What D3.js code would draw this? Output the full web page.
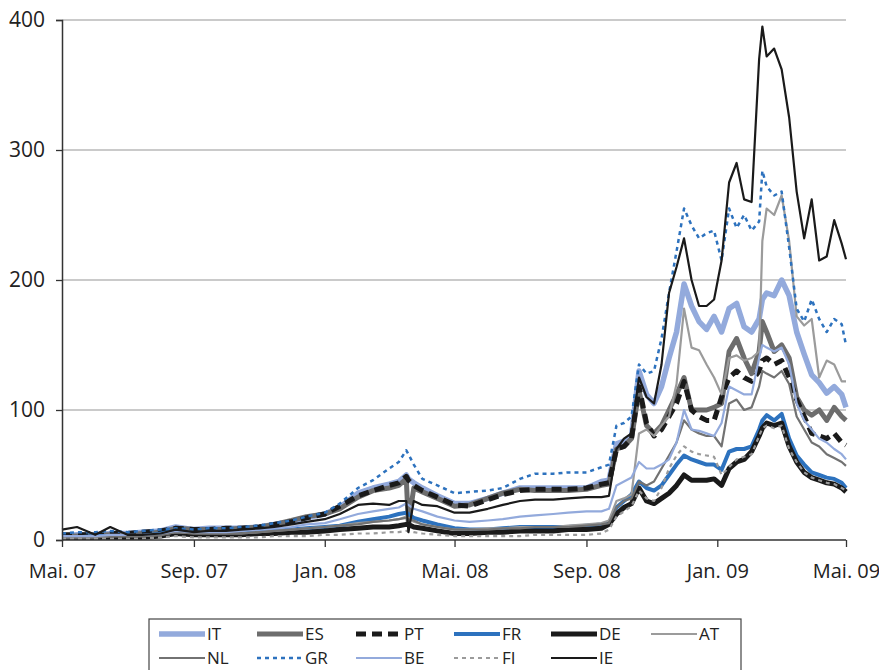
<!DOCTYPE html>
<html><head><meta charset="utf-8">
<script src="https://cdn.jsdelivr.net/npm/d3@7"></script>
<style>body{margin:0;background:#fff}svg{display:block;font-family:'Open Sans',sans-serif}</style>
</head><body><svg id="c" width="879" height="670"></svg>
<script>
// ---- data ----
const dates = ["2007-05-01","2007-05-15","2007-06-01","2007-06-15","2007-07-01","2007-07-15","2007-08-01","2007-08-15",
"2007-09-01","2007-09-15","2007-10-01","2007-10-15","2007-11-01","2007-11-15","2007-12-01","2007-12-15",
"2008-01-01","2008-01-15","2008-02-01","2008-02-15","2008-03-01","2008-03-10","2008-03-17","2008-03-19","2008-03-24",
"2008-04-01","2008-04-15","2008-05-01","2008-05-15","2008-06-01","2008-06-15","2008-07-01","2008-07-15","2008-08-01",
"2008-08-15","2008-09-01","2008-09-15","2008-09-22","2008-09-29","2008-10-06","2008-10-13","2008-10-20","2008-10-27",
"2008-11-03","2008-11-10","2008-11-17","2008-11-24","2008-12-01","2008-12-08","2008-12-15","2008-12-22","2008-12-29",
"2009-01-05","2009-01-12","2009-01-19","2009-01-26","2009-02-02","2009-02-09","2009-02-12","2009-02-16","2009-02-23",
"2009-03-02","2009-03-09","2009-03-16","2009-03-23","2009-03-30","2009-04-06","2009-04-13","2009-04-20","2009-04-27","2009-05-01"];

const IT = [3,4,4,5,5,6,7,10,8,9,9,9,10,12,14,17,20,25,36,40,43,45,50,47,44,40,34,28,28,32,36,40,40,40,40,40,45,
 46,74,76,80,130,112,105,118,140,160,197,180,168,162,172,160,178,182,164,160,170,185,190,188,200,188,160,143,127,121,113,118,112,102];
const ES = [3,3,4,4,4,5,6,9,8,8,8,9,10,12,15,18,20,24,33,38,40,42,47,12,40,37,32,26,27,32,36,39,38,38,38,39,42,
 43,70,72,78,115,88,82,88,100,112,125,100,100,100,102,105,145,155,140,128,145,168,160,145,150,140,110,100,96,100,92,102,95,92];
const PT = [4,4,4,5,5,6,7,9,8,8,9,9,10,12,14,17,20,26,34,38,42,44,49,46,42,38,33,27,26,31,35,38,39,39,39,40,43,
 44,70,72,78,118,90,80,85,95,105,122,100,95,92,92,110,125,130,125,122,130,138,140,135,138,125,108,95,82,80,78,82,75,73];
const FR = [2,2,3,3,3,3,5,7,5,5,5,5,6,7,8,9,10,11,14,16,18,20,21,20,17,15,12,9,8,8,9,10,10,10,10,11,12,
 13,25,30,35,45,40,38,42,50,58,65,62,60,58,58,54,68,70,70,72,85,92,96,92,97,78,65,58,52,50,48,47,44,40];
const DE = [2,2,2,2,2,2,3,5,4,4,4,4,5,5,6,6,7,8,9,10,10,11,12,12,10,9,7,5,5,6,6,7,7,7,8,8,9,
 12,20,25,28,40,30,28,32,36,42,50,46,46,46,47,42,55,60,62,68,80,86,90,88,90,72,60,52,48,46,44,43,40,37];
const AT = [2,2,2,3,3,3,4,6,5,5,5,5,6,7,8,9,10,11,13,14,15,16,18,17,14,12,10,8,8,9,9,10,10,10,11,12,13,
 15,30,32,35,82,85,80,88,95,120,178,148,146,135,125,112,140,142,138,140,145,230,255,250,265,230,172,165,170,125,138,135,122,122];
const NL = [2,2,2,3,3,3,4,6,5,5,5,5,6,7,8,9,10,11,12,14,15,16,17,16,15,12,10,8,8,8,9,9,10,10,10,11,12,
 13,25,30,32,45,42,45,55,65,75,92,85,82,80,80,72,105,108,100,102,118,130,128,125,130,120,95,85,75,72,66,63,60,57];
const GR = [5,6,6,7,6,7,8,9,8,9,9,10,11,13,15,18,21,28,40,46,55,60,69,66,58,47,42,36,37,38,40,47,51,51,52,52,56,
 58,88,90,95,135,128,130,155,190,222,255,242,232,236,238,215,255,240,250,238,245,284,272,265,268,225,178,168,185,170,160,170,166,150];
const BE = [3,3,3,4,4,4,5,7,6,6,6,7,8,9,10,12,13,16,20,22,24,25,28,27,24,22,18,15,14,15,16,18,19,20,21,22,22,
 24,42,45,48,60,55,55,58,62,75,100,85,84,82,80,90,118,115,112,112,140,150,148,145,148,135,105,92,85,78,75,70,66,62];
const FI = [1,1,1,1,1,1,2,3,2,2,2,2,2,3,3,3,4,4,5,5,6,6,7,7,6,5,4,3,3,3,3,3,4,4,4,4,5,
 8,18,22,26,38,32,30,40,55,65,72,68,66,65,64,50,56,62,64,66,80,86,88,86,88,70,60,52,48,46,44,43,40,38];
const IE = [8,10,4,10,4,4,5,8,6,7,7,8,9,10,12,14,16,20,27,28,27,30,30,6,30,27,26,21,21,24,27,30,31,31,32,33,33,
 34,70,78,82,125,110,105,135,190,210,232,200,180,180,185,215,275,290,262,260,370,395,372,378,362,325,268,232,262,215,218,246,228,216];

const seriesNames = ["IT","ES","PT","FR","DE","AT","NL","GR","BE","FI","IE"];
const seriesValues = [IT,ES,PT,FR,DE,AT,NL,GR,BE,FI,IE];
const tickDates = ["2007-05-01","2007-09-01","2008-01-01","2008-05-01","2008-09-01","2009-01-01","2009-05-01"];
const tickLabels = ["Mai. 07","Sep. 07","Jan. 08","Mai. 08","Sep. 08","Jan. 09","Mai. 09"];
const yTicks = [0,100,200,300,400];

// ---- styles ----
const styles = {
  IT:{c:"#93aadc",w:5.5,d:null},
  ES:{c:"#6d6d6d",w:5,d:null},
  PT:{c:"#1a1a1a",w:5,d:"10,6"},
  FR:{c:"#2d72be",w:4,d:null},
  DE:{c:"#1a1a1a",w:5,d:null},
  AT:{c:"#9b9b9b",w:2.2,d:null},
  NL:{c:"#727272",w:2.2,d:null},
  GR:{c:"#2d72be",w:2.5,d:"4,4"},
  BE:{c:"#93aadc",w:2.2,d:null},
  FI:{c:"#9b9b9b",w:2.2,d:"4,4"},
  IE:{c:"#1a1a1a",w:2.2,d:null}
};

const parse = d3.timeParse("%Y-%m-%d");
const svg = d3.select("#c");
const x = d3.scaleTime().domain([parse("2007-05-01"), parse("2009-05-01")]).range([62,846]);
const y = d3.scaleLinear().domain([0,400]).range([540,20]);

// gridlines
svg.append("g").selectAll("line").data(yTicks.filter(v=>v>0)).join("line")
  .attr("x1",62).attr("x2",846).attr("y1",d=>y(d)).attr("y2",d=>y(d))
  .attr("stroke","#b8b8b8").attr("stroke-width",1.3);

// lines
const plot = svg.append("g");
const dParsed = dates.map(parse);
seriesNames.forEach((n,i)=>{
  const vals = seriesValues[i];
  const line = d3.line().x((d,j)=>x(dParsed[j])).y(d=>y(d));
  const s = styles[n];
  plot.append("path").datum(vals).attr("d",line)
    .attr("fill","none").attr("stroke",s.c).attr("stroke-width",s.w)
    .attr("stroke-linejoin","round")
    .attr("stroke-dasharray",s.d);
});

// axes
const yAxis = d3.axisLeft(y).tickValues(yTicks).tickSize(6).tickFormat(d3.format("d"));
const gy = svg.append("g").attr("transform","translate(62,0)").call(yAxis);
gy.select(".domain").attr("stroke","#333").attr("stroke-width",1.5);
gy.selectAll(".tick line").attr("stroke","#333").attr("stroke-width",1.3);
gy.selectAll(".tick text").attr("font-size",21).attr("fill","#222").attr("x",-17).attr("font-family","'Open Sans',sans-serif");

const xAxis = d3.axisBottom(x).tickValues(tickDates.map(parse)).tickSize(7)
  .tickFormat((d,i)=>tickLabels[i]);
const gx = svg.append("g").attr("transform","translate(0,540)").call(xAxis);
gx.select(".domain").attr("stroke","#333").attr("stroke-width",1.5).attr("d","M62,0H846");
gx.selectAll(".tick line").attr("stroke","#333").attr("stroke-width",1.3);
gx.selectAll(".tick text").attr("font-size",20).attr("fill","#222").attr("y",24).attr("font-family","'Open Sans',sans-serif");

// legend
const lg = svg.append("g");
lg.append("rect").attr("x",149).attr("y",619).attr("width",592).attr("height",60)
  .attr("fill","#fff").attr("stroke","#444").attr("stroke-width",1.2);
const colX = [159,257,356,454,551,651];
const rowY = [634,658];
seriesNames.forEach((n,i)=>{
  const r = i<6?0:1, c = i<6?i:i-6;
  const s = styles[n];
  const gx0 = colX[c], gy0 = rowY[r];
  lg.append("line").attr("x1",gx0).attr("x2",gx0+46).attr("y1",gy0).attr("y2",gy0)
    .attr("stroke",s.c).attr("stroke-width",s.w).attr("stroke-dasharray",s.d);
  lg.append("text").attr("x",gx0+48).attr("y",gy0).attr("dy","0.35em").attr("font-size",17).attr("fill","#222").text(n);
});
</script></body></html>
